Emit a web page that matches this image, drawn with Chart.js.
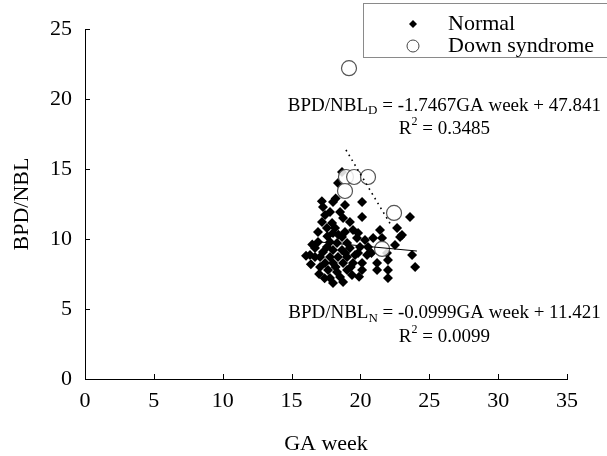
<!DOCTYPE html>
<html lang="en">
  <head>
    <meta charset="UTF-8" />
    <title>BPD/NBL vs GA week</title>
    <script src="https://cdn.jsdelivr.net/npm/chart.js"></script>
    <style>
      html, body { margin: 0; padding: 0; background: #fff; }
      #wrap { width: 607px; height: 456px; }
    </style>
  </head>
  <body>
    <div id="wrap"><canvas id="myChart"></canvas></div>

    <script>
      // Normal fetuses (diamonds)
      const normalX = [
        18.66, 18.37, 18.01, 17.28, 17.79, 18.52, 20.12, 17.43, 18.74, 17.94,
        17.57, 18.16, 18.88, 19.46, 18.01, 18.66, 17.79, 18.3, 19.03, 17.57,
        17.28, 18.01, 18.66, 19.24, 17.07, 17.79, 18.37, 19.03, 19.61, 17.43,
        18.01, 18.74, 19.46, 17.65, 18.3, 19.03, 17.79, 18.52, 18.01, 20.12,
        23.6, 22.66, 23.02, 19.83, 20.33, 20.92, 22.51, 19.97, 20.55, 19.83,
        20.48, 21.93, 23.75, 20.12, 21.21, 22.0, 20.12, 21.21, 22.0, 22.0,
        23.97, 16.92, 16.7, 17.07, 16.34, 22.88, 16.92, 17.21, 19.24, 18.88,
        19.75, 16.7, 19.39, 18.74, 21.57, 21.42, 16.05, 16.5, 17.0, 17.4,
        18.2, 18.9, 19.3, 17.6, 18.4, 19.9, 20.8, 16.4, 17.2, 18.2,
      ];
      const normalY = [
        14.79, 14.0, 12.64, 12.29, 11.93, 11.93, 12.64, 11.71, 11.5, 11.14,
        10.79, 10.79, 10.5, 10.64, 10.43, 10.14, 9.79, 9.71, 9.71, 9.43,
        9.07, 9.21, 9.21, 9.36, 8.71, 8.71, 8.71, 8.71, 8.86, 8.29,
        8.29, 8.29, 8.29, 7.79, 7.64, 7.79, 7.21, 7.29, 6.86, 11.57,
        11.57, 10.79, 10.29, 10.43, 9.93, 10.07, 9.57, 9.43, 9.43, 9.0,
        8.86, 9.0, 8.86, 8.29, 8.29, 8.5, 7.79, 7.79, 7.79, 7.21,
        8.0, 9.79, 8.71, 8.0, 8.86, 10.14, 10.5, 11.21, 11.21, 12.43,
        10.07, 9.36, 7.43, 6.93, 10.07, 10.64, 8.8, 9.6, 7.5, 7.2,
        8.0, 9.0, 8.0, 10.2, 10.3, 7.3, 9.0, 8.2, 12.7, 12.9,
      ];

      // Down syndrome fetuses (open circles)
      const downX = [19.17, 18.95, 19.54, 20.55, 18.88, 22.44, 21.57];
      const downY = [22.2, 14.43, 14.43, 14.43, 13.43, 11.86, 9.29];

      // Regression lines as drawn in the figure
      const normalFitX = [16.9, 24.1];
      const normalFitY = [9.8, 9.14];
      const downFitX = [18.95, 22.3];
      const downFitY = [16.36, 10.86];

      const xTicks = [0, 5, 10, 15, 20, 25, 30, 35];
      const yTicks = [0, 5, 10, 15, 20, 25];

      const toPoints = (xs, ys) => xs.map((x, i) => ({ x: x, y: ys[i] }));

      const serif = "'Liberation Serif', 'DejaVu Serif', serif";

      // inward tick marks
      const innerTicks = {
        id: "innerTicks",
        afterDraw(chart) {
          const ctx = chart.ctx;
          const xs = chart.scales.x;
          const ys = chart.scales.y;
          const area = chart.chartArea;
          ctx.save();
          ctx.strokeStyle = "#000";
          ctx.lineWidth = 1;
          ctx.beginPath();
          xTicks.forEach((v) => {
            const px = Math.round(xs.getPixelForValue(v)) + 0.5;
            ctx.moveTo(px, area.bottom);
            ctx.lineTo(px, area.bottom - 5);
          });
          yTicks.forEach((v) => {
            const py = Math.round(ys.getPixelForValue(v)) + 0.5;
            ctx.moveTo(area.left, py);
            ctx.lineTo(area.left + 5, py);
          });
          ctx.stroke();
          ctx.restore();
        },
      };

      // equations and the boxed legend
      const notes = {
        id: "notes",
        afterDraw(chart) {
          const ctx = chart.ctx;
          const xs = chart.scales.x;
          const ys = chart.scales.y;
          ctx.save();
          ctx.fillStyle = "#000";
          ctx.textBaseline = "middle";

          function eq(cx, cy, sub, rest) {
            const big = "19px " + serif;
            const small = "13px " + serif;
            ctx.font = big;
            const w1 = ctx.measureText("BPD/NBL").width;
            const w3 = ctx.measureText(rest).width;
            ctx.font = small;
            const w2 = ctx.measureText(sub).width;
            let x = cx - (w1 + w2 + w3) / 2;
            ctx.textAlign = "left";
            ctx.font = big;
            ctx.fillText("BPD/NBL", x, cy);
            x += w1;
            ctx.font = small;
            ctx.fillText(sub, x, cy + 5);
            x += w2;
            ctx.font = big;
            ctx.fillText(rest, x, cy);
          }
          function r2(cx, cy, val) {
            const big = "19px " + serif;
            const small = "12px " + serif;
            ctx.font = big;
            const wr = ctx.measureText("R").width;
            const wv = ctx.measureText(" = " + val).width;
            ctx.font = small;
            const w2 = ctx.measureText("2").width;
            let x = cx - (wr + w2 + wv) / 2;
            ctx.textAlign = "left";
            ctx.font = big;
            ctx.fillText("R", x, cy);
            x += wr;
            ctx.font = small;
            ctx.fillText("2", x, cy - 7);
            x += w2;
            ctx.font = big;
            ctx.fillText(" = " + val, x, cy);
          }

          const cx = xs.getPixelForValue(26.1);
          eq(cx, ys.getPixelForValue(19.5), "D", " = -1.7467GA week + 47.841");
          r2(cx, ys.getPixelForValue(17.85), "0.3485");
          eq(cx, ys.getPixelForValue(4.7), "N", " = -0.0999GA week + 11.421");
          r2(cx, ys.getPixelForValue(3.0), "0.0099");

          // legend box
          ctx.strokeStyle = "#8a8a8a";
          ctx.lineWidth = 1;
          ctx.strokeRect(363.5, 3.5, 260, 54);
          ctx.fillStyle = "#000";
          ctx.beginPath();
          ctx.moveTo(413, 20);
          ctx.lineTo(417, 24);
          ctx.lineTo(413, 28);
          ctx.lineTo(409, 24);
          ctx.closePath();
          ctx.fill();
          ctx.strokeStyle = "#444";
          ctx.beginPath();
          ctx.arc(413, 46, 6, 0, Math.PI * 2);
          ctx.stroke();
          ctx.font = "22px " + serif;
          ctx.textAlign = "left";
          ctx.fillText("Normal", 448, 24);
          ctx.fillText("Down syndrome", 448, 46);
          ctx.restore();
        },
      };

      const ctx = document.getElementById("myChart").getContext("2d");
      new Chart(ctx, {
        data: {
          datasets: [
            {
              type: "line",
              label: "Normal fit",
              data: toPoints(normalFitX, normalFitY),
              borderColor: "#000",
              borderWidth: 1,
              pointRadius: 0,
              fill: false,
              order: 1,
            },
            {
              type: "line",
              label: "Down fit",
              data: toPoints(downFitX, downFitY),
              borderColor: "#000",
              borderWidth: 1.6,
              borderDash: [1.6, 4],
              pointRadius: 0,
              fill: false,
              order: 2,
            },
            {
              type: "scatter",
              label: "Down syndrome",
              data: toPoints(downX, downY),
              pointStyle: "circle",
              pointRadius: 7.5,
              backgroundColor: "rgba(255,255,255,0.85)",
              borderColor: "#555",
              borderWidth: 1.2,
              order: 3,
            },
            {
              type: "scatter",
              label: "Normal",
              data: toPoints(normalX, normalY),
              pointStyle: "rectRot",
              pointRadius: 5,
              backgroundColor: "#000",
              borderColor: "#000",
              borderWidth: 0,
              order: 4,
            },
          ],
        },
        options: {
          responsive: true,
          maintainAspectRatio: false,
          animation: false,
          layout: { padding: { top: 29, right: 40, left: 0, bottom: 0 } },
          plugins: {
            legend: { display: false },
            tooltip: { enabled: false },
          },
          scales: {
            x: {
              type: "linear",
              min: 0,
              max: 35,
              afterFit: (s) => { s.height = 77; },
              afterBuildTicks: (s) => { s.ticks = xTicks.map((v) => ({ value: v })); },
              grid: { display: false, drawTicks: false },
              border: { display: true, color: "#000", width: 1 },
              ticks: {
                padding: 9,
                color: "#000",
                maxRotation: 0,
                font: { family: serif, size: 22 },
              },
              title: {
                display: true,
                text: "GA week",
                color: "#000",
                padding: 0,
                font: { family: serif, size: 22, lineHeight: 1.1 },
              },
            },
            y: {
              type: "linear",
              min: 0,
              max: 25,
              afterFit: (s) => { s.width = 85; },
              afterBuildTicks: (s) => { s.ticks = yTicks.map((v) => ({ value: v })); },
              grid: { display: false, drawTicks: false },
              border: { display: true, color: "#000", width: 1 },
              ticks: {
                padding: 13,
                color: "#000",
                font: { family: serif, size: 22 },
              },
              title: {
                display: true,
                text: "BPD/NBL",
                color: "#000",
                padding: { top: 9, bottom: 0 },
                font: { family: serif, size: 22, lineHeight: 1.2 },
              },
            },
          },
        },
        plugins: [innerTicks, notes],
      });
    </script>
  </body>
</html>
